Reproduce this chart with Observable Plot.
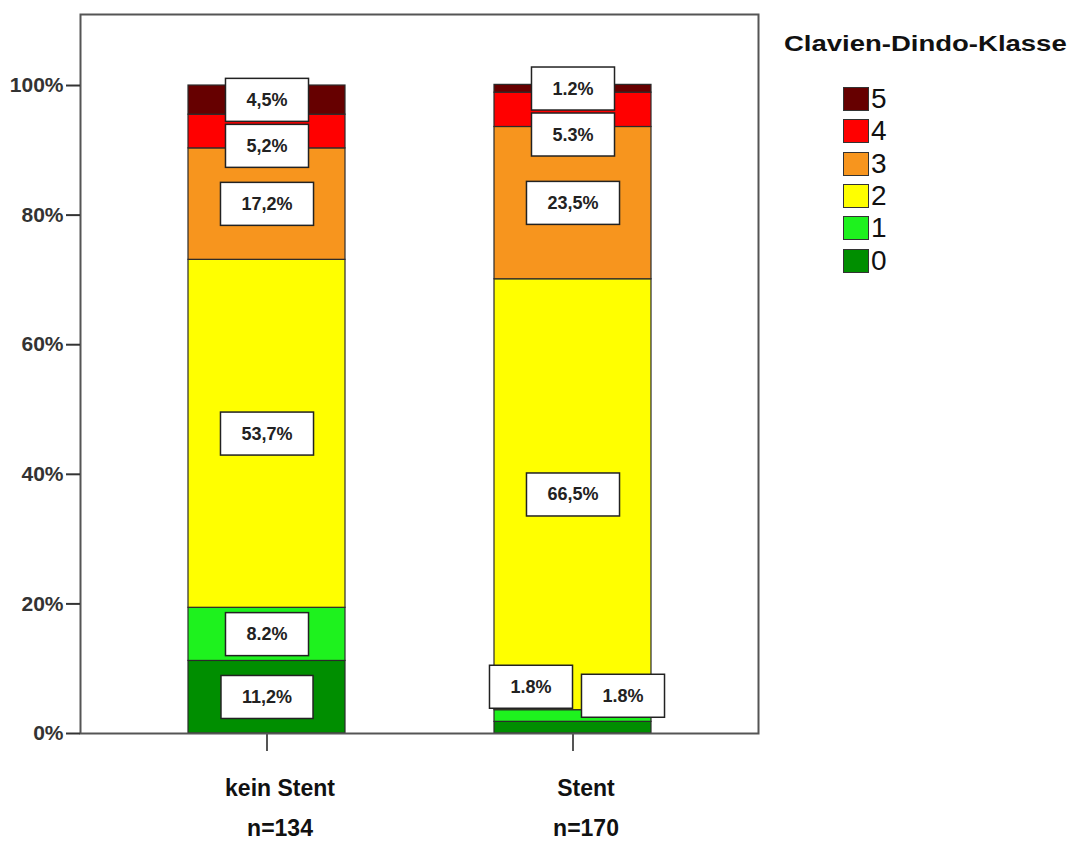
<!DOCTYPE html>
<html>
<head>
<meta charset="utf-8">
<script src="https://cdn.jsdelivr.net/npm/d3@7"></script>
<script src="https://cdn.jsdelivr.net/npm/@observablehq/plot@0.6"></script>
<style>
  body { margin: 0; background: #fff; }
  #wrap { position: relative; width: 1073px; height: 843px; overflow: hidden; }
  #wrap svg { position: absolute; left: 0; top: 0; }
  #legend { position: absolute; left: 784px; top: 31px; font-family: "Liberation Sans", Arial, sans-serif; color: #111; }
  #legend .title { font-size: 22px; font-weight: bold; transform: scaleX(1.25); transform-origin: left top; white-space: nowrap; line-height: 26px; }
  #legend .items { position: absolute; left: 59px; top: 52px; }
  #legend .row { height: 32.3px; display: flex; align-items: center; }
  #legend .sw { width: 24px; height: 22px; border: 1px solid #333; margin-right: 2px; }
  #legend .lab { font-size: 28px; line-height: 24px; }
</style>
</head>
<body>
<div id="wrap"></div>
<script>
// ---- data ----
const groups = ["kein Stent", "Stent"];
const counts = [134, 170];
const classes = ["0", "1", "2", "3", "4", "5"];
const keinStentValues = [11.2, 8.2, 53.7, 17.2, 5.2, 4.5];
const stentValues = [1.8, 1.8, 66.5, 23.5, 5.3, 1.2];
const keinStentLabels = ["11,2%", "8.2%", "53,7%", "17,2%", "5,2%", "4,5%"];
const stentLabels = ["1.8%", "1.8%", "66,5%", "23,5%", "5.3%", "1.2%"];
const classColors = ["#008e00", "#1ef21e", "#ffff00", "#f7951e", "#ff0000", "#660000"];
const yTicks = [0, 20, 40, 60, 80, 100];

// ---- layout ----
const W = 1073, H = 843, mL = 80, mR = 315, mT = 14, mB = 110, yMax = 110.96;
const ppu = (H - mT - mB) / yMax; // px per percent unit
const boxH = 43;
const sans = '"Liberation Sans", Arial, sans-serif';

const valuesByGroup = [keinStentValues, stentValues];
const labelsByGroup = [keinStentLabels, stentLabels];

const bars = [];
groups.forEach((g, gi) => {
  classes.forEach((c, ci) => {
    bars.push({group: g, cls: c, k: ci, value: valuesByGroup[gi][ci]});
  });
});

// label positions: midpoints with simple top-down collision avoidance
const labels = [];
groups.forEach((g, gi) => {
  const vals = valuesByGroup[gi];
  let cum = 0;
  const items = vals.map((v, ci) => {
    const mid = cum + v / 2;
    cum += v;
    return {group: g, cls: classes[ci], label: labelsByGroup[gi][ci], mid, y: mid, pos: "center"};
  });
  const gap = (boxH + 3) / ppu;
  let prev = Infinity;
  for (let i = items.length - 1; i >= 0; i--) {
    items[i].y = Math.min(items[i].mid, prev - gap);
    prev = items[i].y;
  }
  // if bottom labels cannot fit, stagger them side by side
  const halfU = boxH / 2 / ppu;
  if (items[0].y < halfU) {
    items[1].pos = "left";  items[1].y = 46.5 / ppu;
    items[0].pos = "right"; items[0].y = 37.5 / ppu;
  }
  labels.push(...items);
});

const textOpts = {
  x: "group", y: "y", text: "label",
  fontFamily: sans, fontSize: 18, fontWeight: "bold", fill: "#222",
  lineAnchor: "middle", className: "seglbl"
};

const chart = Plot.plot({
  width: W, height: H,
  marginLeft: mL, marginRight: mR, marginTop: mT, marginBottom: mB,
  style: {background: "transparent", fontFamily: sans},
  x: {type: "band", domain: groups, paddingInner: 0.488, paddingOuter: 0.35, label: null},
  y: {domain: [0, yMax], label: null},
  color: {domain: classes, range: classColors},
  marks: [
    Plot.barY(bars, {x: "group", y: "value", fill: "cls", order: d => d.k, stroke: "#2a2a2a", strokeWidth: 1.2}),
    Plot.frame({stroke: "#555", strokeWidth: 2}),
    Plot.axisY({ticks: yTicks, tickFormat: d => d + "%", tickSize: 14, tickPadding: 3,
      fontSize: 21, fontWeight: "bold", fontFamily: sans, color: "#333", strokeWidth: 2, label: null}),
    Plot.axisX({tickSize: 18, tickFormat: () => "", color: "#555", strokeWidth: 2, label: null}),
    Plot.axisX({tickSize: 0, tickPadding: 34, dx: 13, label: null,
      tickFormat: d => `${d}\nn=${counts[groups.indexOf(d)]}`,
      fontSize: 23, fontWeight: "bold", lineHeight: 1.75, color: "#111",
      fontFamily: sans}),
    Plot.text(labels.filter(d => d.pos === "center"), textOpts),
    Plot.text(labels.filter(d => d.pos === "left"), {...textOpts, dx: -42}),
    Plot.text(labels.filter(d => d.pos === "right"), {...textOpts, dx: 50})
  ]
});

const wrap = document.getElementById("wrap");
wrap.appendChild(chart);

// white boxes behind the segment labels
chart.querySelectorAll("g.seglbl").forEach(g => {
  g.querySelectorAll("text").forEach(t => {
    const bb = t.getBBox();
    const w = bb.width + 42;
    const cx = bb.x + bb.width / 2, cy = bb.y + bb.height / 2;
    const r = document.createElementNS("http://www.w3.org/2000/svg", "rect");
    r.setAttribute("x", cx - w / 2);
    r.setAttribute("y", cy - boxH / 2);
    r.setAttribute("width", w);
    r.setAttribute("height", boxH);
    r.setAttribute("fill", "#fff");
    r.setAttribute("stroke", "#222");
    r.setAttribute("stroke-width", 1.5);
    const tr = t.getAttribute("transform");
    if (tr) r.setAttribute("transform", tr);
    t.parentNode.insertBefore(r, t);
  });
});

// legend (colours from the chart's own color scale)
const color = chart.scale("color");
const leg = document.createElement("div");
leg.id = "legend";
const title = document.createElement("div");
title.className = "title";
title.textContent = "Clavien-Dindo-Klasse";
leg.appendChild(title);
const items = document.createElement("div");
items.className = "items";
[...classes].reverse().forEach(c => {
  const row = document.createElement("div");
  row.className = "row";
  const sw = document.createElement("div");
  sw.className = "sw";
  sw.style.background = color.apply(c);
  const lab = document.createElement("div");
  lab.className = "lab";
  lab.textContent = c;
  row.appendChild(sw); row.appendChild(lab);
  items.appendChild(row);
});
leg.appendChild(items);
wrap.appendChild(leg);
</script>
</body>
</html>
